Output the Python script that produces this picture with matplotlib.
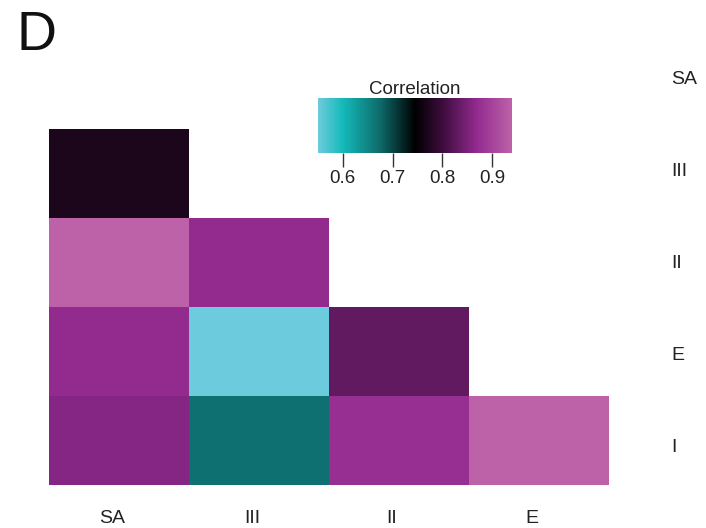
import numpy as np
import matplotlib.pyplot as plt
from matplotlib.colors import LinearSegmentedColormap

plt.rcParams['font.family'] = ['Liberation Sans', 'DejaVu Sans']

# rows / columns of the correlation matrix
row_labels = ['SA', 'III', 'II', 'E', 'I']
col_labels = ['SA', 'III', 'II', 'E']

# lower triangle values (row by row), NaN = not shown
corr_SA = [np.nan, np.nan, np.nan, np.nan]
corr_III = [0.77, np.nan, np.nan, np.nan]
corr_II = [0.94, 0.87, np.nan, np.nan]
corr_E = [0.87, 0.55, 0.83, np.nan]
corr_I = [0.86, 0.67, 0.875, 0.94]

cbar_ticks = [0.6, 0.7, 0.8, 0.9]

corr = np.ma.masked_invalid(np.array([corr_SA, corr_III, corr_II, corr_E, corr_I]))
vmin, vmax = 0.55, 0.94

# cyan -> teal -> black -> purple -> pink
stops = [(0.55, '#6ccbdc'), (0.60, '#14b9b9'), (0.675, '#0e6a6a'),
         (0.745, '#000000'), (0.80, '#3c0c3c'), (0.87, '#922a8f'),
         (0.94, '#bd62a8')]
cmap = LinearSegmentedColormap.from_list(
    'corr', [((v - vmin) / (vmax - vmin), c) for v, c in stops])

fig = plt.figure(figsize=(7.06, 5.28), dpi=100)
ax = fig.add_axes([0.0694, 0.0814, 0.7932, 0.8428])
mesh = ax.pcolormesh(corr, cmap=cmap, vmin=vmin, vmax=vmax)
ax.set_xlim(0, len(col_labels))
ax.set_ylim(len(row_labels), 0)
for s in ax.spines.values():
    s.set_visible(False)

ax.set_xticks(np.arange(len(col_labels)) + 0.45)
ax.set_xticklabels(col_labels, fontsize=14, color='#222222')
# row labels sit on a slightly wider spacing than the cells
ax.set_yticks(np.arange(len(row_labels)) * 1.033 + 0.42)
ax.set_yticklabels(row_labels, fontsize=14, color='#222222')
ax.yaxis.tick_right()
ax.tick_params(length=0)
ax.tick_params(axis='x', pad=18)
ax.tick_params(axis='y', pad=45)

# colour bar
cax = fig.add_axes([0.4504, 0.7102, 0.2748, 0.1042])
cb = fig.colorbar(mesh, cax=cax, orientation='horizontal', ticks=cbar_ticks)
cb.outline.set_visible(False)
cb.ax.tick_params(labelsize=13.5, length=10, width=1, color='#333333',
                  labelcolor='#222222', pad=2)
cb.ax.set_title('Correlation', fontsize=13.5, color='#222222', pad=2)

fig.text(0.024, 0.905, 'D', fontsize=40, color='#111111')

fig.savefig('out.png', dpi=100)
